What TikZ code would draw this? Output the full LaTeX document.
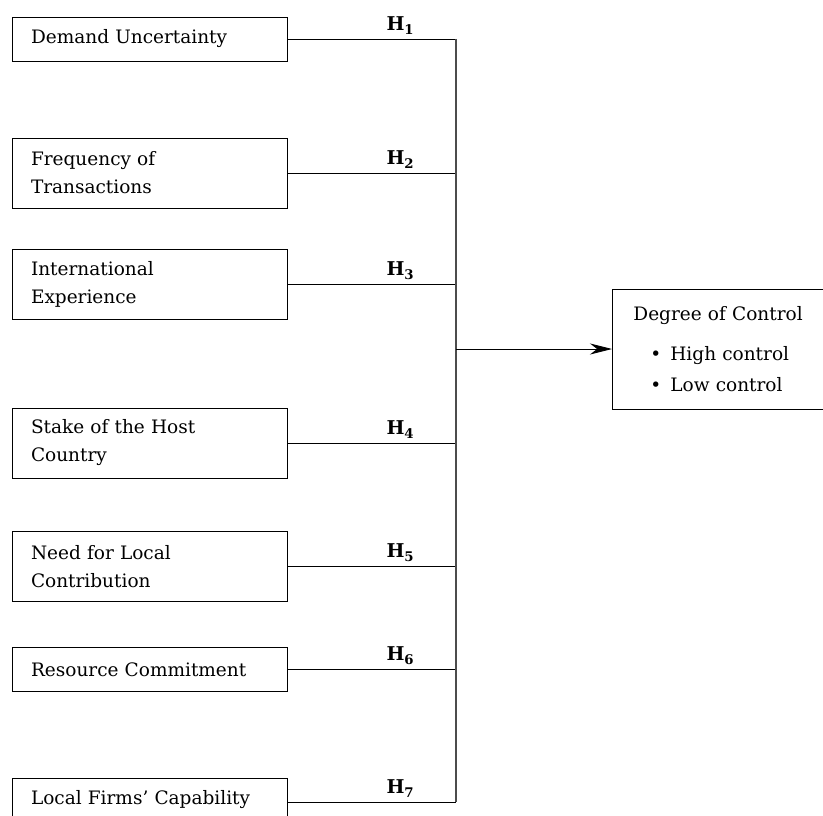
\documentclass[tikz,border=0pt]{standalone}
\usepackage{fontspec}
\setmainfont{DejaVu Serif}
\usetikzlibrary{calc,positioning,arrows.meta}

\begin{document}
\begin{tikzpicture}[x=1pt,y=-1pt,
  fac/.style={draw,line width=.9pt,minimum height=44pt,text width=237pt,inner xsep=19pt,align=left,font=\fontsize{18.5}{28}\selectfont},
  two/.style={minimum height=70pt},
  hyp/.style={pos=.67,above=1pt,font=\fontsize{19}{20}\selectfont}]
  \useasboundingbox (0,0) rectangle (823,816);
  \coordinate (bus) at (456,0);
  % factors
  \node[fac] (du) at (149.5,39) {Demand Uncertainty};
  \node[fac,two] (ft) at (149.5,173) {Frequency of\\Transactions};
  \node[fac,two] (ie) at (149.5,284.5) {International\\Experience};
  \node[fac,two] (sh) at (149.5,443) {Stake of the Host\\Country};
  \node[fac,two] (nl) at (149.5,566.5) {Need for Local\\Contribution};
  \node[fac] (rc) at (149.5,669.5) {Resource Commitment};
  \node[fac] (lf) at (149.5,800) {Local Firms' Capability};

  \node[draw,line width=.9pt,anchor=west,minimum height=120pt,text width=200pt,inner xsep=21pt,align=left,font=\fontsize{18.5}{28}\selectfont] (dc) at (612,349)
    {Degree of Control\\[12pt]
     \hspace*{17pt}\textbullet\hspace{9pt}High control\\[3pt]
     \hspace*{17pt}\textbullet\hspace{9pt}Low control};

  \draw[line width=.9pt] (du.east) -- (du.east -| bus) node[hyp] {$\mathbf{H_1}$};
  \draw[line width=.9pt] (ft.east) -- (ft.east -| bus) node[hyp] {$\mathbf{H_2}$};
  \draw[line width=.9pt] (ie.east) -- (ie.east -| bus) node[hyp] {$\mathbf{H_3}$};
  \draw[line width=.9pt] (sh.east) -- (sh.east -| bus) node[hyp] {$\mathbf{H_4}$};
  \draw[line width=.9pt] (nl.east) -- (nl.east -| bus) node[hyp] {$\mathbf{H_5}$};
  \draw[line width=.9pt] (rc.east) -- (rc.east -| bus) node[hyp] {$\mathbf{H_6}$};
  \draw[line width=.9pt] ($(lf.east)+(0,2)$) -- ($(lf.east -| bus)+(0,2)$) node[hyp] {$\mathbf{H_7}$};
  \draw[line width=1.4pt,gray!60!black] (du.east -| bus) -- ($(lf.east -| bus)+(0,2)$);
  \draw[line width=.9pt,-{Stealth[length=22pt,width=11pt]}] (dc.west -| bus) -- (dc.west);
\end{tikzpicture}
\end{document}
